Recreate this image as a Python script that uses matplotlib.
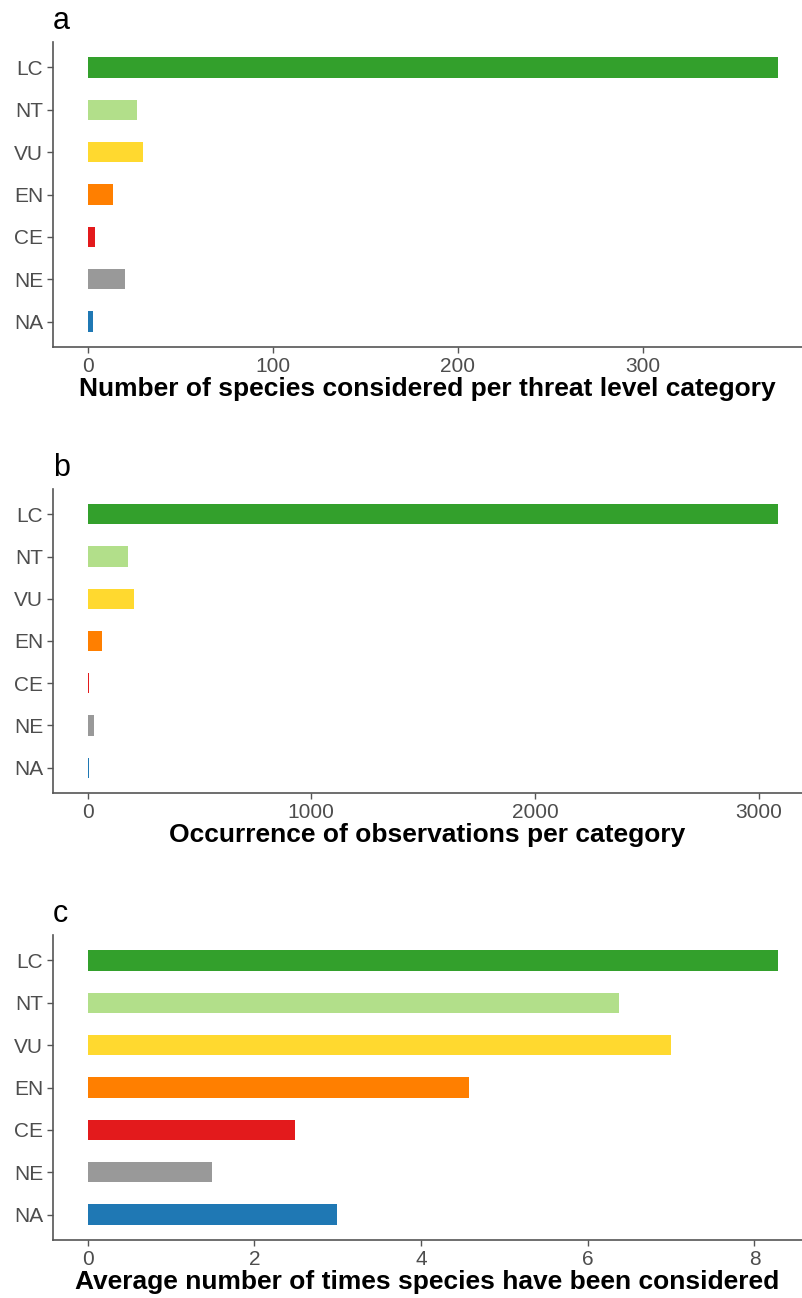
import matplotlib.pyplot as plt

# threat level categories, top to bottom
categories = ["LC", "NT", "VU", "EN", "CE", "NE", "NA"]
colors = ["#33A02C", "#B2DF8A", "#FFD92F", "#FF7F00", "#E31A1C", "#999999", "#1F78B4"]

# panel a: number of species per category
n_species = [373, 27, 30, 14, 4, 20, 3]
# panel b: occurrence of observations per category
n_obs = [3085, 179, 209, 63, 8, 29, 7]
# panel c: average number of times species have been considered
avg_times = [8.28, 6.37, 7.00, 4.57, 2.49, 1.49, 2.99]

ticks_a = [0, 100, 200, 300]
ticks_b = [0, 1000, 2000, 3000]
ticks_c = [0, 2, 4, 6, 8]

titles = [
    "Number of species considered per threat level category",
    "Occurrence of observations per category",
    "Average number of times species have been considered",
]

plt.rcParams["font.family"] = ["Liberation Sans", "DejaVu Sans"]

fig = plt.figure(figsize=(8.02, 12.98), dpi=100)

W, H = 802, 1298
left = 53 / W
# (top px, bottom px) of each panel
boxes = [(42, 347), (489, 793), (935, 1240)]
panels = [(n_species, ticks_a, "a"), (n_obs, ticks_b, "b"), (avg_times, ticks_c, "c")]

for i, ((top, bottom), (vals, ticks, letter)) in enumerate(zip(boxes, panels)):
    ax = fig.add_axes([left, 1 - bottom / H, 1 - left, (bottom - top) / H])
    ypos = list(range(len(categories)))[::-1]
    ax.barh(ypos, vals, height=0.48, color=colors, edgecolor="none")
    ax.set_yticks(ypos)
    ax.set_yticklabels(categories)
    ax.set_ylim(-0.6, len(categories) - 0.4)
    vmax = max(vals)
    ax.set_xlim(-0.05 * vmax, 1.035 * vmax)
    ax.set_xticks(ticks)
    ax.set_xticklabels([str(t) for t in ticks])
    for s in ["top", "right"]:
        ax.spines[s].set_visible(False)
    for s in ["left", "bottom"]:
        ax.spines[s].set_color("#555555")
        ax.spines[s].set_linewidth(1.2)
    ax.tick_params(axis="both", length=4, width=1, color="#555555",
                   labelcolor="#4D4D4D", labelsize=15, pad=3)
    ax.set_xlabel(titles[i], fontsize=19, fontweight="bold", labelpad=1, color="black")
    fig.text(53 / W, 1 - (top - 13) / H, letter, fontsize=22, ha="left", va="baseline")

fig.savefig("out.png", dpi=100)
